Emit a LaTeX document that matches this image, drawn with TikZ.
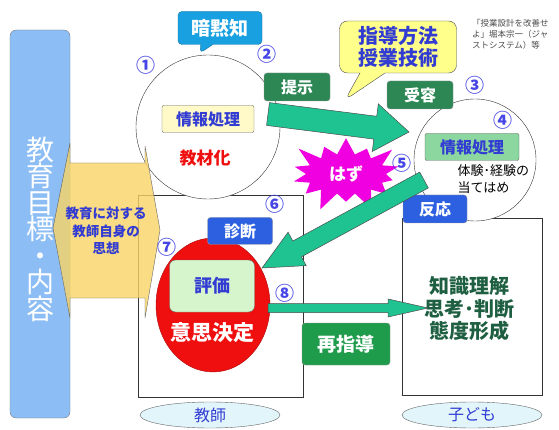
\documentclass[tikz,border=0pt]{standalone}
\usepackage{fontspec}
\setmainfont{Noto Sans CJK JP}
\usepackage{xcolor}
\usetikzlibrary{calc,positioning,shapes.geometric,shapes.symbols,shapes.callouts}

\definecolor{barblue}{RGB}{140,190,245}
\definecolor{armyellow}{RGB}{248,212,100}
\definecolor{noteyellow}{RGB}{255,255,140}
\definecolor{tacitblue}{RGB}{25,160,225}
\definecolor{darkgreen}{RGB}{45,135,85}
\definecolor{redogreen}{RGB}{30,155,75}
\definecolor{arrowgreen}{RGB}{30,195,145}
\definecolor{boxblue}{RGB}{45,95,225}
\definecolor{textblue}{RGB}{50,60,210}
\definecolor{numblue}{RGB}{70,70,230}
\definecolor{decred}{RGB}{240,15,15}
\definecolor{burst}{RGB}{240,0,225}
\definecolor{infoyellow}{RGB}{255,250,200}
\definecolor{infogreen}{RGB}{140,215,160}
\definecolor{evalgreen}{RGB}{215,245,205}
\definecolor{resultgreen}{RGB}{30,95,65}
\definecolor{rolecyan}{RGB}{225,245,250}

\tikzset{
    tag/.style={rounded corners=3pt, inner sep=0pt, text=white, draw=black!40,
        font=\fontsize{16}{16}\selectfont\bfseries, minimum height=28pt},
    num/.style={text=numblue, inner sep=0pt, font=\fontsize{19}{19}\selectfont\bfseries},
    infobox/.style={draw=black!60, rounded corners=2pt, text=textblue, inner sep=0pt,
        font=\fontsize{16}{16}\selectfont\bfseries, minimum height=27pt},
    role/.style={ellipse, draw=black!60, fill=rolecyan, text=textblue, inner sep=0pt,
        minimum width=140pt, minimum height=26pt, font=\fontsize{16}{16}\selectfont},
    field/.style={draw=black!80, line width=0.7pt, inner sep=0pt},
    fatline/.style={draw=black!70, line width=0.5pt, fill=arrowgreen}
}

\newcommand{\fatarrow}[5]{%
    \coordinate (fatbase) at ($(#2)!#5!(#1)$);
    \filldraw[fatline] ($(#1)!#3!90:(#2)$) -- ($(fatbase)!#3!90:(#2)$)
        -- ($(fatbase)!#4!90:(#2)$) -- (#2) -- ($(fatbase)!#4!-90:(#2)$)
        -- ($(fatbase)!#3!-90:(#2)$) -- ($(#1)!#3!-90:(#2)$) -- cycle;}

\begin{document}
\begin{tikzpicture}[x=1pt, y=-1pt]
    \useasboundingbox (0,0) rectangle (559,430);
    \fill[white] (0,0) rectangle (559,430);

    \node[draw=black!50, fill=barblue, rounded corners=6pt, inner sep=0pt,
        minimum width=60pt, minimum height=388pt] (goal) at (40,224) {};
    \node[text=white, align=center, font=\fontsize{28}{26.5}\selectfont] (goaltext) at (40,229)
        {教\\育\\目\\標\\・\\内\\容};

    \node[field, minimum width=165pt, minimum height=202pt] (teacher) at (220.5,296) {};
    \node[field, minimum width=140pt, minimum height=177pt] (child) at (472,306.5) {};

    \node[circle, draw=black!80, fill=white, minimum size=144pt, inner sep=0pt] (prep) at (208,127) {};
    \node[circle, draw=black!80, fill=white, minimum size=122pt, inner sep=0pt] (learn) at (475,160) {};

    \filldraw[draw=black!60, fill=armyellow, fill opacity=0.8]
        (70,163) -- (145,163) -- (145,146) -- (160,230) -- (145,318) -- (145,298)
        -- (70,298) -- (70,318) -- (53,228) -- (70,143) -- cycle;
    \node[text=textblue, align=center, font=\fontsize{13.5}{17.5}\selectfont\bfseries] (thought) at (106,231)
        {教育に対する\\教師自身の\\思想};

    \node[infobox, fill=infoyellow, minimum width=92pt] (proc1) at (208,119) {情報処理};
    \node[text=decred, font=\fontsize{17}{17}\selectfont\bfseries] (material) at (205,158) {教材化};

    \node[rectangle callout, rounded corners=4pt, fill=tacitblue, draw=tacitblue!70!black,
        text=white, inner sep=0pt, minimum width=84pt, minimum height=33pt,
        callout absolute pointer={(200,53)}, callout pointer width=12pt,
        font=\fontsize{19}{19}\selectfont\bfseries] (tacit) at (220,28) {暗黙知};
    \node[rectangle callout, rounded corners=8pt, fill=noteyellow, draw=black!70,
        text=textblue, align=center, inner sep=0pt, minimum width=117pt, minimum height=52pt,
        callout absolute pointer={(345,100)}, callout pointer width=25pt,
        font=\fontsize{20}{22}\selectfont\bfseries] (method) at (398,47) {指導方法\\授業技術};
    \node[anchor=north west, align=left, text=black!70, inner sep=0pt,
        font=\fontsize{8.5}{11}\selectfont] (source) at (472,19)
        {「授業設計を改善せ\\よ」堀本宗一（ジャ\\ストシステム）等};

    \node[tag, fill=darkgreen, minimum width=66pt] (present) at (297,87) {提示};
    \node[tag, fill=darkgreen, minimum width=66pt] (accept) at (420,95) {受容};

    \node[infobox, fill=infogreen, minimum width=94pt] (proc2) at (472,147) {情報処理};
    \node[anchor=west, align=left, font=\fontsize{13}{17}\selectfont] (apply) at (454,179)
        {体験･経験の\\当てはめ};

    \node[starburst, fill=burst, minimum width=124pt, minimum height=84pt, starburst point height=22pt,
        starburst points=14, inner sep=0pt, text=white, font=\fontsize{17}{17}\selectfont\bfseries]
        (oops) at (346,174) {はず};

    \node[ellipse, fill=decred, draw=decred!70!black, minimum width=114pt, minimum height=134pt,
        inner sep=0pt] (decide) at (213,305) {};
    \node[infobox, fill=evalgreen, rounded corners=6pt, minimum width=85pt, minimum height=52pt,
        font=\fontsize{18}{18}\selectfont\bfseries] (evaluate) at (212,286) {評価};
    \node[text=white, font=\fontsize{21}{21}\selectfont\bfseries] (decision) at (212,333) {意思決定};
    \node[tag, fill=boxblue, minimum width=65pt, minimum height=27pt] (diagnose) at (240,231) {診断};

    \node[tag, fill=boxblue, minimum width=64pt] (respond) at (435,209) {反応};
    \node[text=resultgreen, align=center, font=\fontsize{20}{22.5}\selectfont\bfseries] (result) at (469,309)
        {知識理解\\思考･判断\\態度形成};

    \coordinate (showstart) at (268,114);
    \coordinate (showend) at (409,132);
    \fatarrow{showstart}{showend}{11.5pt}{24pt}{34pt}
    \coordinate (replystart) at (424,180);
    \coordinate (replyend) at (262,268);
    \fatarrow{replystart}{replyend}{9pt}{19pt}{40pt}
    \coordinate (guidestart) at (268,308);
    \coordinate (guideend) at (428,308);
    \fatarrow{guidestart}{guideend}{4.5pt}{9pt}{40pt}

    \node[tag, fill=redogreen, minimum width=88pt, minimum height=42pt,
        font=\fontsize{19}{19}\selectfont\bfseries] (reteach) at (346,344) {再指導};

    \node[role] (teacherrole) at (210,415) {教師};
    \node[role] (childrole) at (472,415) {子ども};

    \node[num] (n1) at (146,65) {①};
    \node[num] (n2) at (267,54) {②};
    \node[num] (n3) at (475,85) {③};
    \node[num] (n4) at (503,120) {④};
    \node[num] (n5) at (402,163) {⑤};
    \node[num] (n6) at (275,204) {⑥};
    \node[num] (n7) at (167,247) {⑦};
    \node[num] (n8) at (285,293) {⑧};
\end{tikzpicture}
\end{document}
